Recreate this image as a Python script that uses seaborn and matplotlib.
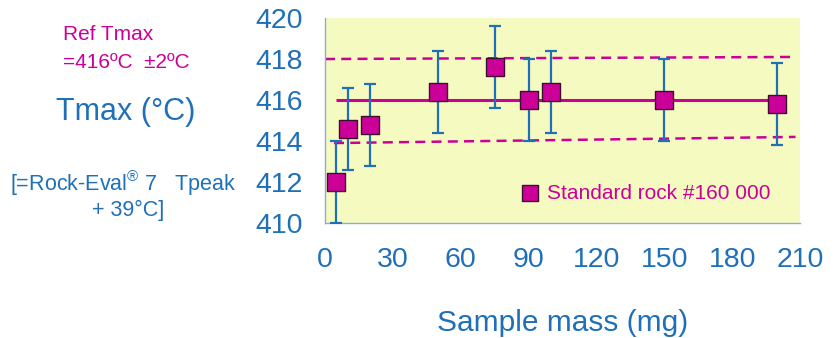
import numpy as np
import pandas as pd
import matplotlib
matplotlib.use('Agg')
import matplotlib.pyplot as plt
import seaborn as sns

# data
mass = [5, 10, 20, 50, 75, 90, 100, 150, 200]
tmax = [412.0, 414.6, 414.8, 416.4, 417.6, 416.0, 416.4, 416.0, 415.8]
err = [2, 2, 2, 2, 2, 2, 2, 2, 2]

ref_x = [5, 202]
ref_y = [416, 416]
upper_x = [0, 206]
upper_y = [418.0, 418.1]
lower_x = [4, 208]
lower_y = [413.9, 414.2]

xticks = [0, 30, 60, 90, 120, 150, 180, 210]
yticks = [410, 412, 414, 416, 418, 420]

magenta = '#cc0099'
blue = '#1f70b8'
spine = '#8eaadb'
yellow = '#f5fbc0'

sns.set_style('white')
plt.rcParams['font.family'] = ['Liberation Sans', 'DejaVu Sans']

df = pd.DataFrame({'mass': mass, 'tmax': tmax})

fig = plt.figure(figsize=(8.4, 3.38), dpi=100)
ax = fig.add_axes([0.3869, 0.3402, 0.5655, 0.6065])
ax.set_facecolor(yellow)

ax.plot(upper_x, upper_y, color=magenta, lw=1.8, ls=(0, (4, 2.5)))
ax.plot(lower_x, lower_y, color=magenta, lw=1.8, ls=(0, (4, 2.5)))
ax.plot(ref_x, ref_y, color=magenta, lw=2.2, solid_capstyle='butt')
ax.errorbar(mass, tmax, yerr=err, fmt='none', ecolor=blue, elinewidth=1.6,
            capsize=4, capthick=1.6, zorder=3)
sns.scatterplot(data=df, x='mass', y='tmax', marker='s', s=170, color=magenta,
                edgecolor='#3a1030', linewidth=1, zorder=4, ax=ax,
                label='Standard rock #160 000')

ax.set_xlim(0, 210)
ax.set_ylim(410, 420)
ax.set_xticks(xticks)
ax.set_yticks(yticks)
ax.tick_params(axis='both', colors=spine, length=7, width=1, direction='out',
               labelsize=20.5, labelcolor=blue)
ax.tick_params(axis='x', pad=10)
ax.tick_params(axis='y', pad=9)
for s in ['top', 'right']:
    ax.spines[s].set_visible(False)
for s in ['left', 'bottom']:
    ax.spines[s].set_color(spine)
    ax.spines[s].set_linewidth(1)
ax.set_xlabel('Sample mass (mg)', fontsize=21.5, color=blue, labelpad=26)
ax.set_ylabel('')

leg = ax.legend(loc='center left', bbox_to_anchor=(0.37, 0.145), frameon=False,
                fontsize=15, handletextpad=-0.2, markerscale=0.85,
                borderaxespad=0)
for t in leg.get_texts():
    t.set_color(magenta)

fig.text(63 / 840, 1 - 35 / 338, 'Ref Tmax', color=magenta, fontsize=15,
         ha='left', va='center')
fig.text(63 / 840, 1 - 62 / 338, '=416ºC  ±2ºC', color=magenta, fontsize=15,
         ha='left', va='center')
fig.text(126 / 840, 1 - 112 / 338, 'Tmax (°C)', color=blue, fontsize=22,
         ha='center', va='center')
fig.text(10 / 840, 1 - 183 / 338,
         r'[=Rock-Eval$^{\mathregular{®}}$ 7   Tpeak', color=blue,
         fontsize=15.5, ha='left', va='center')
fig.text(164 / 840, 1 - 210 / 338, '+ 39°C]', color=blue, fontsize=15.5,
         ha='right', va='center')

fig.savefig('out.png', dpi=100)
